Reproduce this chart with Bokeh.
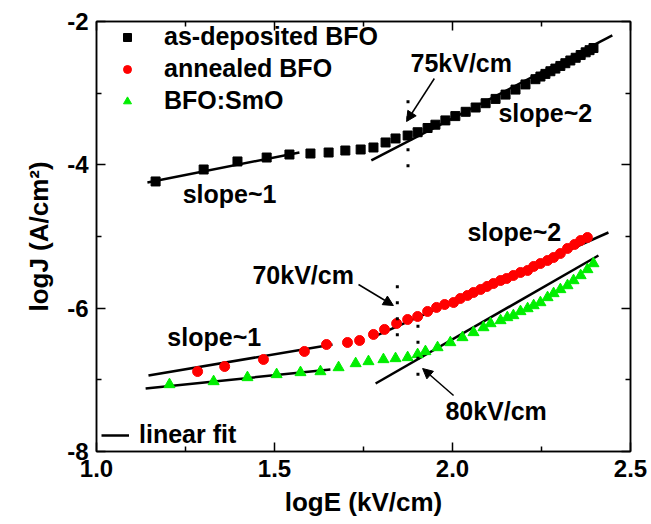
from bokeh.plotting import figure
from bokeh.models import (Legend, LegendItem, Label, Arrow, NormalHead, FixedTicker,
                          LinearAxis, Range1d, PrintfTickFormatter, CustomJSTickFormatter)
from bokeh.embed import file_html
from bokeh.resources import INLINE

# ---------------- data ----------------
asdep_x = [1.166, 1.301, 1.396, 1.478, 1.542, 1.601, 1.652, 1.699, 1.742, 1.778,
           1.812, 1.840, 1.874, 1.902, 1.930, 1.952, 1.980, 2.008, 2.037, 2.065,
           2.093, 2.121, 2.149, 2.177, 2.205, 2.233, 2.247, 2.261, 2.275, 2.289,
           2.303, 2.317, 2.331, 2.346, 2.360, 2.374, 2.385, 2.396]
asdep_y = [-4.232, -4.065, -3.953, -3.898, -3.856, -3.842, -3.828, -3.800, -3.786, -3.758,
           -3.688, -3.632, -3.591, -3.545, -3.486, -3.440, -3.380, -3.320, -3.260, -3.200,
           -3.140, -3.080, -3.020, -2.950, -2.878, -2.805, -2.768, -2.731, -2.694, -2.657,
           -2.620, -2.582, -2.544, -2.506, -2.468, -2.430, -2.400, -2.370]

ann_x = [1.284, 1.360, 1.469, 1.584, 1.646, 1.705, 1.739, 1.778, 1.809, 1.843,
         1.874, 1.902, 1.930, 1.955, 1.978, 2.003, 2.022, 2.042, 2.059, 2.079,
         2.097, 2.115, 2.135, 2.152, 2.171, 2.191, 2.211, 2.228, 2.247, 2.267,
         2.284, 2.303, 2.323, 2.343, 2.360, 2.379]
ann_y = [-6.884, -6.814, -6.716, -6.604, -6.507, -6.479, -6.451, -6.367, -6.297, -6.214,
         -6.158, -6.116, -6.046, -5.990, -5.949, -5.921, -5.865, -5.823, -5.781, -5.739,
         -5.697, -5.656, -5.614, -5.586, -5.544, -5.502, -5.474, -5.418, -5.377, -5.335,
         -5.293, -5.237, -5.167, -5.111, -5.056, -5.014]

smo_x = [1.205, 1.329, 1.424, 1.506, 1.573, 1.629, 1.680, 1.728, 1.764, 1.806,
         1.840, 1.874, 1.902, 1.924, 1.958, 1.994, 2.028, 2.059, 2.087, 2.107,
         2.135, 2.154, 2.171, 2.191, 2.211, 2.228, 2.247, 2.267, 2.284, 2.303,
         2.323, 2.340, 2.360, 2.379, 2.396]
smo_y = [-7.065, -7.023, -6.967, -6.925, -6.897, -6.884, -6.828, -6.772, -6.744, -6.716,
         -6.702, -6.688, -6.646, -6.604, -6.549, -6.479, -6.409, -6.339, -6.270, -6.214,
         -6.172, -6.130, -6.102, -6.046, -6.005, -5.963, -5.921, -5.851, -5.795, -5.739,
         -5.684, -5.614, -5.544, -5.460, -5.377]

# linear fits (start/end)
fit_asdep_low_x = [1.143, 1.570]
fit_asdep_low_y = [-4.246, -3.828]
fit_asdep_high_x = [1.772, 2.449]
fit_asdep_high_y = [-3.939, -2.195]
fit_ann_low_x = [1.146, 1.663]
fit_ann_low_y = [-6.939, -6.507]
fit_ann_high_x = [1.775, 2.438]
fit_ann_high_y = [-6.409, -4.944]
fit_smo_low_x = [1.138, 1.657]
fit_smo_low_y = [-7.121, -6.856]
fit_smo_high_x = [1.784, 2.410]
fit_smo_high_y = [-7.051, -5.265]

# crossover fields (log E) and dotted marker extents
cross_x = [1.875, 1.845, 1.903]
cross_y0 = [-3.10, -5.68, -6.23]
cross_y1 = [-4.04, -6.45, -6.97]

x_ticks = [1.0, 1.5, 2.0, 2.5]
x_minor = [1.25, 1.75, 2.25]
y_ticks = [-8, -6, -4, -2]
y_minor = [-7, -5, -3]

FONT = "Liberation Sans"

p = figure(width=651, height=524, x_range=Range1d(1.0, 2.5), y_range=Range1d(-8, -2),
           output_backend="svg", toolbar_location=None,
           min_border_left=96, min_border_right=21, min_border_top=21, min_border_bottom=73)
p.xgrid.visible = False
p.ygrid.visible = False
p.outline_line_color = "black"
p.outline_line_width = 1.5
p.background_fill_color = "white"

def style_axis(ax):
    ax.axis_line_color = "black"
    ax.axis_line_width = 1.5
    ax.major_tick_in = 9
    ax.major_tick_out = 0
    ax.minor_tick_in = 5
    ax.minor_tick_out = 0
    ax.major_tick_line_width = 1.5
    ax.minor_tick_line_width = 1.5
    ax.major_label_text_font = FONT
    ax.major_label_text_font_style = "bold"
    ax.major_label_text_font_size = "24px"
    ax.major_label_text_color = "black"
    ax.axis_label_text_font = FONT
    ax.axis_label_text_font_style = "bold"
    ax.axis_label_text_font_size = "26px"
    ax.axis_label_text_color = "black"

p.xaxis.ticker = FixedTicker(ticks=x_ticks, minor_ticks=x_minor)
p.yaxis.ticker = FixedTicker(ticks=y_ticks, minor_ticks=y_minor)
p.xaxis.formatter = PrintfTickFormatter(format="%.1f")
p.yaxis.formatter = PrintfTickFormatter(format="%d")
style_axis(p.xaxis[0])
style_axis(p.yaxis[0])
p.xaxis.axis_label = "logE (kV/cm)"
p.yaxis.axis_label = "logJ (A/cm²)"
p.xaxis.major_label_standoff = 8
p.yaxis.major_label_standoff = 8
p.xaxis.axis_label_standoff = 7
p.yaxis.axis_label_standoff = 10

blank = CustomJSTickFormatter(code="return '';")
top_ax = LinearAxis(ticker=FixedTicker(ticks=x_ticks, minor_ticks=x_minor), formatter=blank)
style_axis(top_ax)
top_ax.major_label_standoff = 0
p.add_layout(top_ax, "above")
right_ax = LinearAxis(ticker=FixedTicker(ticks=y_ticks, minor_ticks=y_minor), formatter=blank)
style_axis(right_ax)
right_ax.major_label_standoff = 0
p.add_layout(right_ax, "right")

# fit lines
fit_kw = dict(line_color="black", line_width=2.5)
r_fit = p.line(fit_asdep_low_x, fit_asdep_low_y, **fit_kw)
p.line(fit_asdep_high_x, fit_asdep_high_y, **fit_kw)
p.line(fit_ann_low_x, fit_ann_low_y, **fit_kw)
p.line(fit_ann_high_x, fit_ann_high_y, **fit_kw)
p.line(fit_smo_low_x, fit_smo_low_y, **fit_kw)
p.line(fit_smo_high_x, fit_smo_high_y, **fit_kw)

# data
r_black = p.scatter(asdep_x, asdep_y, marker="square", size=9, fill_color="black", line_color="black")
r_red = p.scatter(ann_x, ann_y, marker="circle", size=10, fill_color="red", line_color="red")
r_green = p.scatter(smo_x, smo_y, marker="triangle", size=11, fill_color="#00ee00", line_color="#00ee00")

# dotted crossover markers
p.segment(x0=cross_x, y0=cross_y0, x1=cross_x, y1=cross_y1, line_color="black",
          line_width=3, line_dash="3 13")

# annotations
def lab(x, y, t):
    p.add_layout(Label(x=x, y=y, text=t, text_font=FONT, text_font_style="bold",
                       text_font_size="25px", text_baseline="middle", text_align="left",
                       text_color="black"))

lab(1.882, -2.586, "75kV/cm")
lab(2.129, -3.270, "slope~2")
lab(1.242, -4.400, "slope~1")
lab(1.438, -5.544, "70kV/cm")
lab(1.199, -6.409, "slope~1")
lab(2.042, -4.944, "slope~2")
lab(1.980, -7.428, "80kV/cm")

def arrow(x0, y0, x1, y1):
    p.add_layout(Arrow(end=NormalHead(size=10, fill_color="black", line_color="black"),
                       x_start=x0, y_start=y0, x_end=x1, y_end=y1,
                       line_color="black", line_width=1.5))

arrow(1.949, -2.795, 1.871, -3.395)
arrow(1.736, -5.670, 1.834, -5.963)
arrow(2.003, -7.218, 1.916, -6.842)

# legends
leg_kw = dict(background_fill_alpha=0, border_line_color=None,
              label_text_font=FONT, label_text_font_style="bold",
              label_text_font_size="25px", label_text_color="black", margin=0, padding=0)
legend1 = Legend(items=[LegendItem(label="as-deposited BFO", renderers=[r_black]),
                        LegendItem(label="annealed BFO", renderers=[r_red]),
                        LegendItem(label="BFO:SmO", renderers=[r_green])],
                 location=(21, 336), glyph_width=20, glyph_height=20, label_standoff=27,
                 spacing=3, **leg_kw)
legend2 = Legend(items=[LegendItem(label="linear fit", renderers=[r_fit])],
                 location=(5, 2), glyph_width=28, glyph_height=20, label_standoff=10,
                 **leg_kw)
p.add_layout(legend1)
p.add_layout(legend2)

open("out.html", "w").write(file_html(p, INLINE))
